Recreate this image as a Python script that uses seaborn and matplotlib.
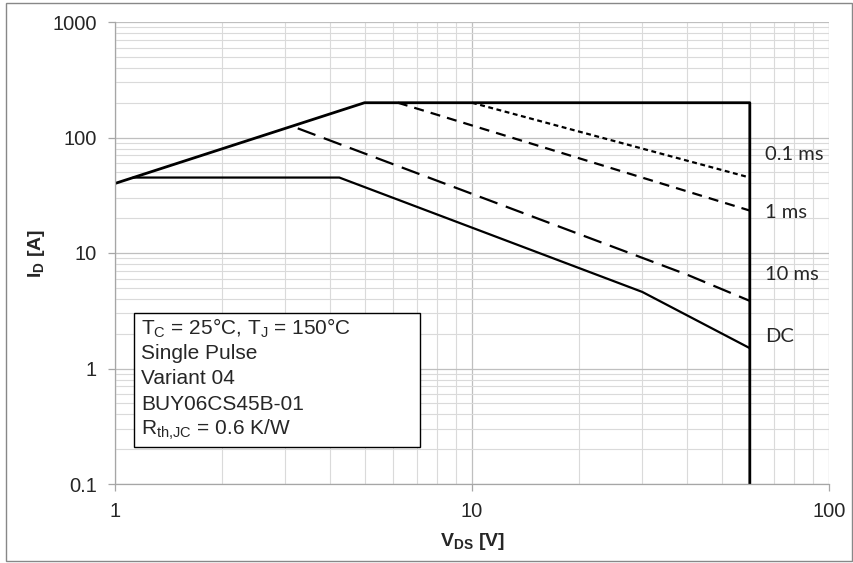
import numpy as np
import pandas as pd
import seaborn as sns
import matplotlib.pyplot as plt
from matplotlib.patches import Rectangle
from matplotlib.ticker import FixedLocator, NullFormatter, LogLocator

# ========= data =========
soa_vds = [1, 5, 60, 60]
soa_id = [40, 200, 200, 0.1]

t01_vds = [10, 60]
t01_id = [200, 45]

t1_vds = [6.2, 60]
t1_id = [200, 23.3]

t10_vds = [3.25, 40, 60]
t10_id = [120, 6.5, 3.85]

dc_vds = [1.125, 4.25, 30, 60]
dc_id = [45, 45, 4.6, 1.5]

curve_labels = ["0.1 ms", "1 ms", "10 ms", "DC"]
x_ticks = [1, 10, 100]
y_ticks = [0.1, 1, 10, 100, 1000]
info_lines = [
    r"T$_\mathrm{C}$ = 25°C, T$_\mathrm{J}$ = 150°C",
    "Single Pulse",
    "Variant 04",
    "BUY06CS45B-01",
    r"R$_\mathrm{th{,}JC}$ = 0.6 K/W",
]

sns.set_style("white")
plt.rcParams["font.family"] = ["Liberation Sans", "DejaVu Sans"]
plt.rcParams["mathtext.fontset"] = "custom"
plt.rcParams["mathtext.rm"] = "Liberation Sans"
plt.rcParams["mathtext.bf"] = "Liberation Sans:bold"
plt.rcParams["mathtext.default"] = "rm"

W, H = 854, 563
fig = plt.figure(figsize=(W / 100, H / 100), dpi=100)


def fx(px):
    return px / W


def fy(py):
    return 1 - py / H


ax = fig.add_axes([fx(115), fy(484), fx(829) - fx(115), fy(22) - fy(484)])
ax.set_xscale("log")
ax.set_yscale("log")
ax.set_xlim(1, 100)
ax.set_ylim(0.1, 1000)

# grid
ax.xaxis.set_major_locator(FixedLocator(x_ticks))
ax.yaxis.set_major_locator(FixedLocator(y_ticks))
ax.xaxis.set_minor_locator(LogLocator(base=10, subs=np.arange(2, 10)))
ax.yaxis.set_minor_locator(LogLocator(base=10, subs=np.arange(2, 10)))
ax.xaxis.set_minor_formatter(NullFormatter())
ax.yaxis.set_minor_formatter(NullFormatter())
ax.set_xticklabels([str(v) for v in x_ticks])
ax.set_yticklabels([str(v) for v in y_ticks])
ax.grid(which="major", color="#bfbfbf", lw=0.9)
ax.grid(which="minor", color="#dadada", lw=0.8)
ax.set_axisbelow(True)

ax.tick_params(which="major", direction="out", length=5, width=0.9, color="#a6a6a6",
               labelsize=14.5, pad=8, left=True, bottom=True)
ax.tick_params(which="minor", length=0)
for side in ["top", "right"]:
    ax.spines[side].set_visible(False)
for side in ["left", "bottom"]:
    ax.spines[side].set_color("#a6a6a6")
    ax.spines[side].set_linewidth(0.9)

# ========= curves =========
sns.lineplot(x=soa_vds, y=soa_id, ax=ax, sort=False, estimator=None,
             color="black", lw=2.0)
sns.lineplot(x=t01_vds, y=t01_id, ax=ax, sort=False, estimator=None,
             color="black", lw=1.6, linestyle=(0, (2.2, 1.6)))
sns.lineplot(x=t1_vds, y=t1_id, ax=ax, sort=False, estimator=None,
             color="black", lw=1.6, linestyle=(0, (4.5, 3.2)))
sns.lineplot(x=t10_vds, y=t10_id, ax=ax, sort=False, estimator=None,
             color="black", lw=1.6, linestyle=(0, (8.5, 4.0)))
sns.lineplot(x=dc_vds, y=dc_id, ax=ax, sort=False, estimator=None,
             color="black", lw=1.6)

label_y = [155, 213, 275, 337]
for txt, py in zip(curve_labels, label_y):
    fig.text(fx(765), fy(py), txt, fontsize=14.5, family=["Lato", "DejaVu Sans"],
             ha="left", va="center")

# axis labels
ax.set_xlabel(r"V$_\mathbf{DS}$ [V]", fontsize=14, fontweight="bold")
ax.set_ylabel(r"I$_\mathbf{D}$ [A]", fontsize=14, fontweight="bold")
ax.xaxis.set_label_coords(0.5, (484 - 531) / 462)
ax.yaxis.set_label_coords((47 - 115) / 714, 0.5)

# info box
fig.patches.append(Rectangle((fx(134), fy(447)), fx(420) - fx(134), fy(313) - fy(447),
                             transform=fig.transFigure, facecolor="white",
                             edgecolor="black", lw=1.0, zorder=5))
for i, line in enumerate(info_lines):
    fig.text(fx(141), fy(328 + i * 25.5), line, fontsize=15, ha="left",
             va="center", zorder=6)

# outer chart border
fig.patches.append(Rectangle((fx(6), fy(561)), fx(852) - fx(6), fy(3) - fy(561),
                             transform=fig.transFigure, facecolor="none",
                             edgecolor="#888888", lw=1.0))

plt.savefig("out.png", dpi=100)
plt.close()
